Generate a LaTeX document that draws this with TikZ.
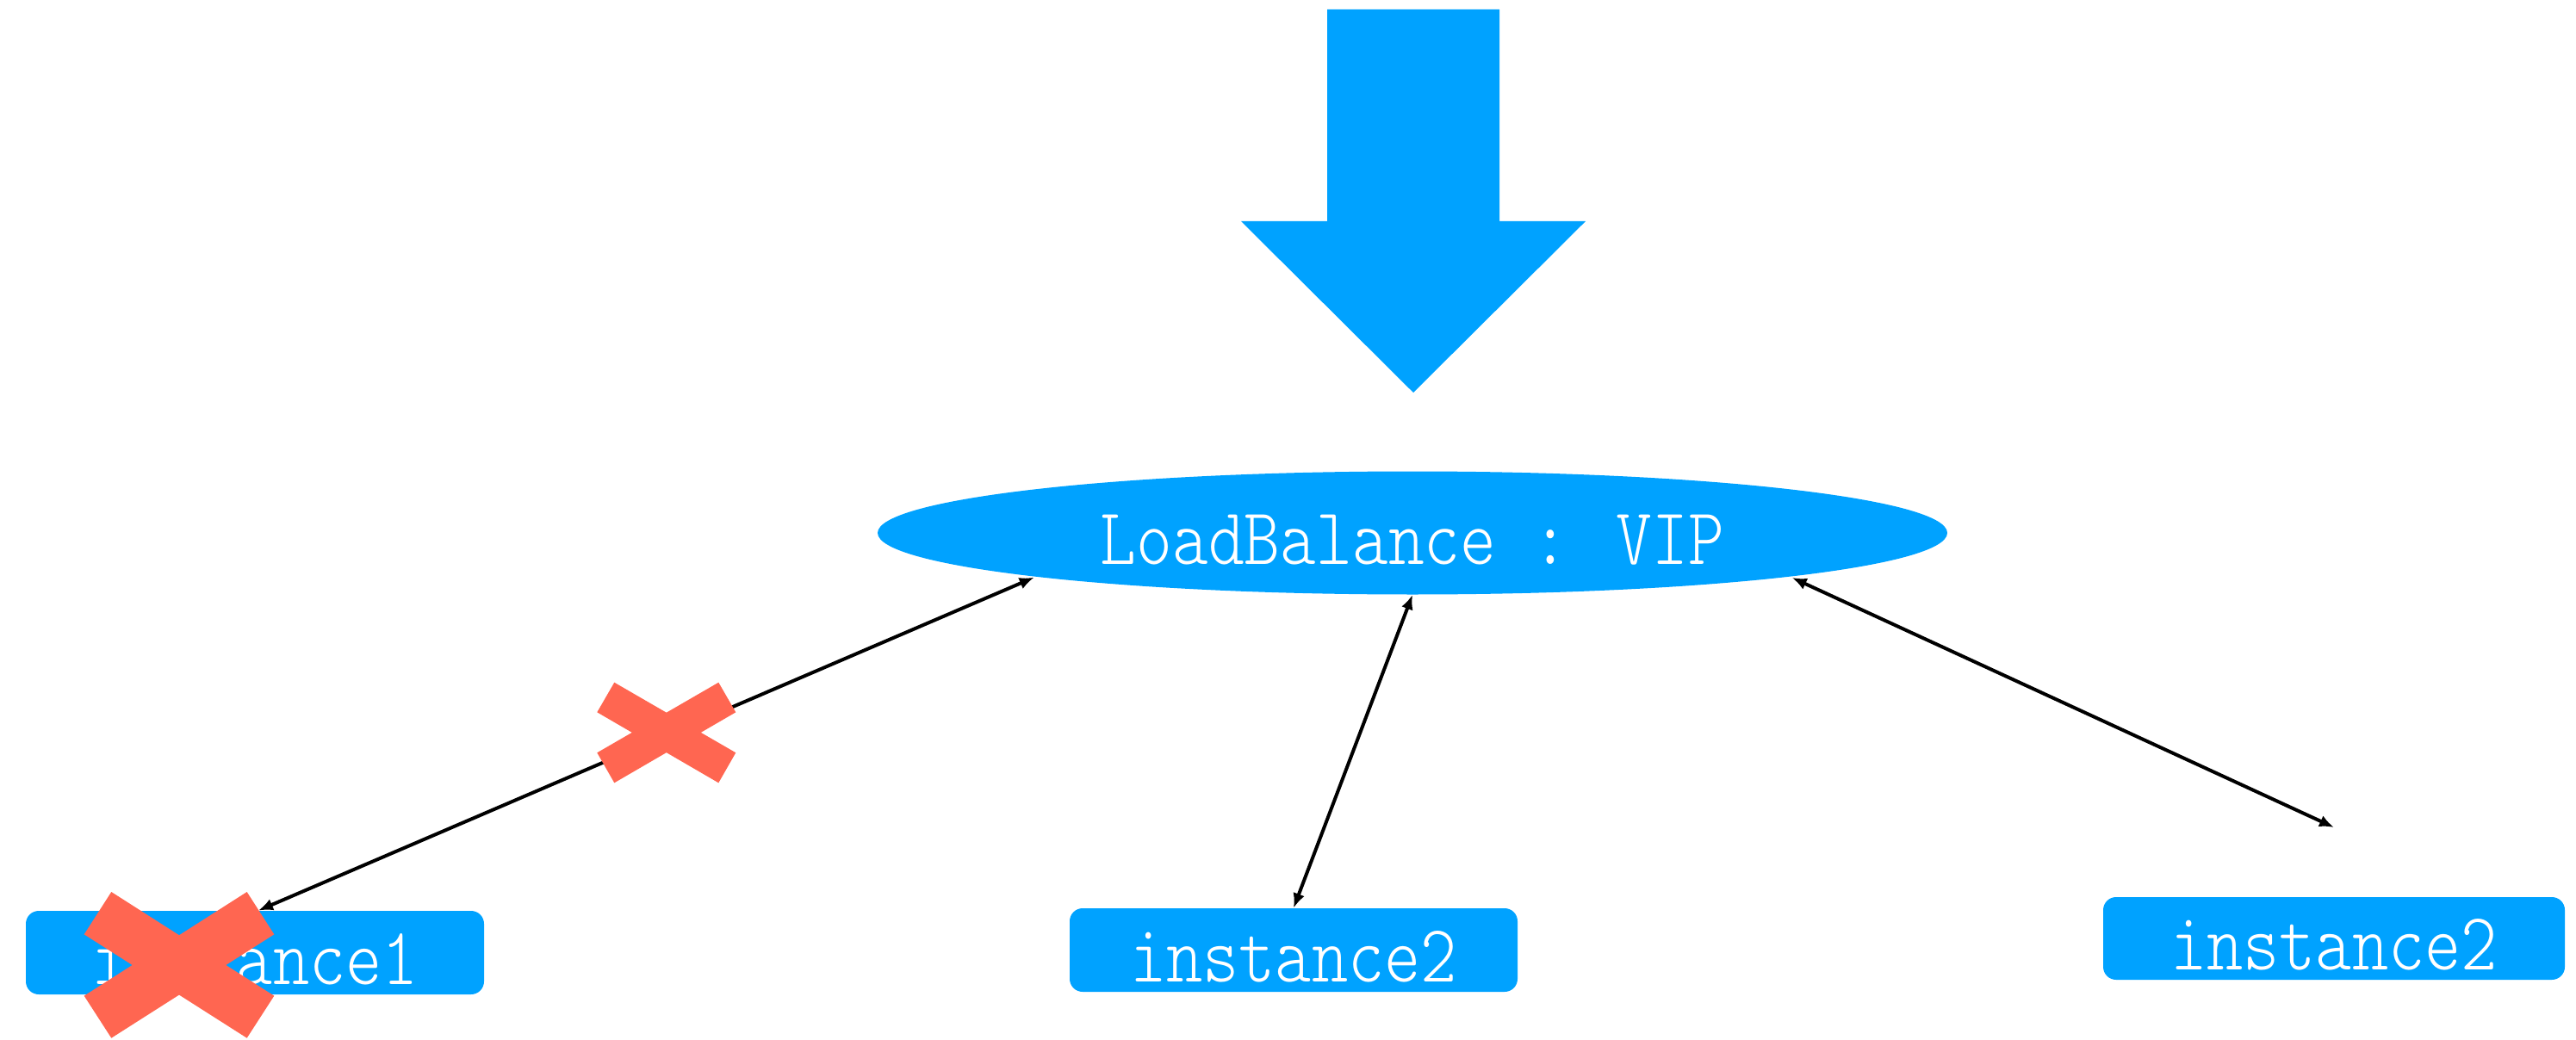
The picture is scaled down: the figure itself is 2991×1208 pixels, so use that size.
\documentclass[tikz,border=0pt]{standalone}
\usepackage{fontspec}
\usepackage{graphicx}
\usetikzlibrary{arrows.meta,shapes.geometric,calc}
\newfontfamily\diagfont{Latin Modern Mono Light}
\definecolor{lbblue}{RGB}{0,162,255}
\definecolor{xred}{RGB}{255,102,81}
\newcommand{\tallText}[2]{{\diagfont\fontsize{#1}{#1}\selectfont\scalebox{1}[1.18]{#2}}}
\begin{document}
\begin{tikzpicture}[x=0.5pt,y=-0.5pt,
  instbox/.style={rectangle, rounded corners=7.5pt, fill=lbblue, text=white,
    minimum height=48.5pt, inner sep=0pt, text height=36.5pt, text depth=0pt},
  vipell/.style={ellipse, fill=lbblue, text=white, minimum width=621pt,
    minimum height=71.5pt, inner sep=0pt, text height=36pt, text depth=0pt},
  link/.style={line width=2pt, {Latex[length=8.5pt,width=7pt]}-{Latex[length=8.5pt,width=7pt]}},
  xmark/.style={fill=xred},
  bigarrow/.style={fill=lbblue}]
\useasboundingbox (0,0) rectangle (2991,1208);

% big incoming arrow
\fill[bigarrow] (1541,11) -- (1741,11) -- (1741,257) -- (1841,257) -- (1641,456)
  -- (1441,257) -- (1541,257) -- cycle;

% nodes
\node[vipell] (lb) at (1640,619) {\tallText{39.8pt}{LoadBalance : VIP}};
\node[instbox, minimum width=266pt] (inst1) at (296,1106.5) {\tallText{40.2pt}{instance1}};
\node[instbox, minimum width=260pt] (inst2) at (1502,1103.5) {\tallText{40.2pt}{instance2}};
\node[instbox, minimum width=268pt, minimum height=48pt] (inst3) at (2710,1090) {\tallText{40.2pt}{instance2}};
\coordinate (free3) at (2710,961);

% connectors
\draw[link] ([xshift=2pt]inst1.north) -- ($(lb.center)+(-439.3,51.7)$);
\draw[link] (inst2.north) -- (lb.south);
\draw[link] (free3) -- ($(lb.center)+(440.7,52)$);

% red crosses
\fill[xmark] (129.3,1036) -- (318.3,1156.7) -- (286.7,1205.7) -- (97.7,1085.3) -- cycle;
\fill[xmark] (286.7,1036) -- (318.3,1085.3) -- (129.3,1205.7) -- (97.7,1156.7) -- cycle;
\fill[xmark] (713.3,792.7) -- (854.3,874.3) -- (834.3,909.3) -- (693.3,827.3) -- cycle;
\fill[xmark] (834.3,792.7) -- (854.3,827.3) -- (713.3,909.3) -- (693.3,874.3) -- cycle;
\end{tikzpicture}
\end{document}
